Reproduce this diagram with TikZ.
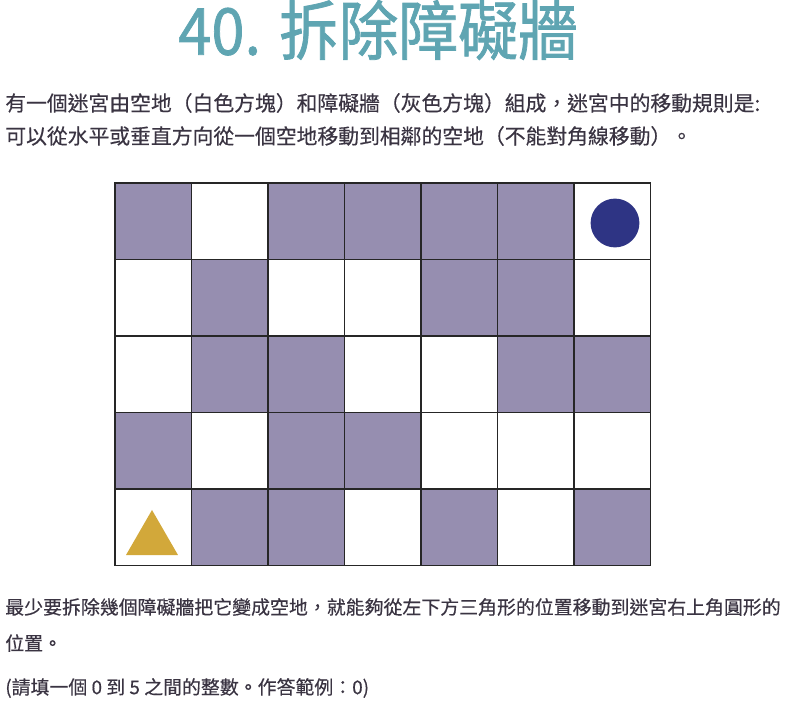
\documentclass[tikz,border=0pt]{standalone}
\usepackage{xcolor}
\usepackage{fontspec}
\newfontfamily\cjk[FakeBold=0.4]{Noto Sans CJK TC}
\newfontfamily\cjktitle[FakeBold=1.2]{Noto Sans CJK TC}
\usetikzlibrary{shapes.geometric}

\begin{document}
\begin{tikzpicture}[x=0.025cm, y=-0.025cm]
    % 定义颜色
    \definecolor{titleteal}{RGB}{95, 165, 178}
    \definecolor{wallgray}{RGB}{150, 142, 176}
    \definecolor{textdark}{RGB}{58, 52, 66}
    \definecolor{goalblue}{RGB}{46, 52, 132}
    \definecolor{startgold}{RGB}{210, 168, 58}
    % 自定义命令：格子左上角坐标
    \newcommand{\CellW}{76.5}
    \newcommand{\GridX}{115}
    \newcommand{\GridY}{183}

    % --- 设置全局样式 ---
    \tikzset{TitleStyle/.style = {
        text=titleteal,         % 文字颜色
        inner sep=0pt,
        yscale=1.08,
        font=\cjktitle\fontsize{42.5pt}{42pt}\selectfont
    }}
    \tikzset{TextStyle/.style = {
        anchor=west,            % 左对齐
        text=textdark,
        inner sep=0pt,
        font=\cjk\fontsize{14.8pt}{16pt}\selectfont
    }}
    \tikzset{SmallTextStyle/.style = {
        TextStyle,
        font=\cjk\fontsize{13.45pt}{15pt}\selectfont
    }}
    \tikzset{WallStyle/.style = {
        fill=wallgray           % 障碍墙填充
    }}
    \tikzset{GridStyle/.style = {
        draw=black!85,          % 格线颜色
        line width=1.4pt,       % 格线粗细
        line cap=rect
    }}

    % 画布大小
    \useasboundingbox (0,0) rectangle (808,715);

    % --- 标题与说明 ---
    \node[TitleStyle] (title) at (378,30) {40. 拆除障礙牆};
    \node[TextStyle] (rule1) at (5,103) {有一個迷宮由空地（白色方塊）和障礙牆（灰色方塊）組成，迷宮中的移動規則是:};
    \node[TextStyle] (rule2) at (5,136) {可以從水平或垂直方向從一個空地移動到相鄰的空地（不能對角線移動）。};

    % --- 障碍墙 (col/row) ---
    \foreach \c/\r in {1/1,3/1,4/1,5/1,6/1,
                       2/2,5/2,6/2,
                       2/3,3/3,6/3,7/3,
                       1/4,3/4,4/4,
                       2/5,3/5,5/5,7/5}
        \fill[WallStyle] ({\GridX+(\c-1)*\CellW},{\GridY+(\r-1)*\CellW})
            rectangle ++(\CellW,\CellW);

    % --- 格线 ---
    \foreach \i in {0,...,7}
        \draw[GridStyle] ({\GridX+\i*\CellW},\GridY) -- ++(0,{5*\CellW});
    \foreach \j in {0,...,5}
        \draw[GridStyle] (\GridX,{\GridY+\j*\CellW}) -- ++({7*\CellW},0);

    % --- 起点与终点 ---
    \node[circle, fill=goalblue, inner sep=0pt, minimum size=1.22cm] (goal) at (615,223) {};
    \node[regular polygon, regular polygon sides=3, fill=startgold,
          inner sep=0pt, minimum size=1.5cm] (start) at (152,540) {};

    % --- 问题 ---
    \node[SmallTextStyle] (ask1) at (5,607) {最少要拆除幾個障礙牆把它變成空地，就能夠從左下方三角形的位置移動到迷宮右上角圓形的};
    \node[SmallTextStyle] (ask2) at (5,643) {位置。};
    \node[SmallTextStyle] (ask3) at (5,688) {(請填一個 0 到 5 之間的整數。作答範例：0)};

\end{tikzpicture}
\end{document}
